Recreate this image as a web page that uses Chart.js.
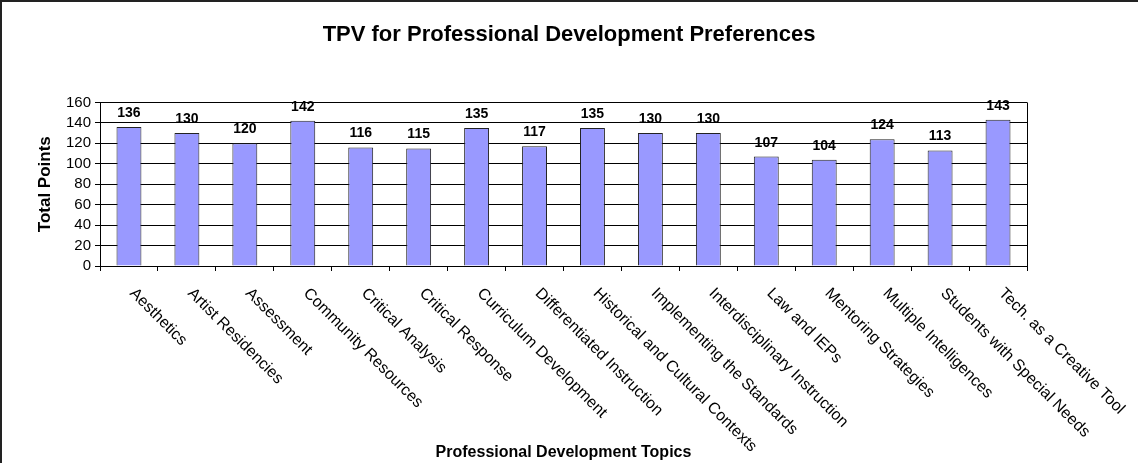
<!DOCTYPE html>
<html>
<head>
<meta charset="utf-8">
<script src="https://cdn.jsdelivr.net/npm/chart.js@4"></script>
<style>
  html, body { margin: 0; padding: 0; background: #fff; }
  canvas { display: block; }
</style>
</head>
<body>
<canvas id="tpvChart" width="1138" height="463"></canvas>
<script>
const topics = [
    'Aesthetics',
    'Artist Residencies',
    'Assessment',
    'Community Resources',
    'Critical Analysis',
    'Critical Response',
    'Curriculum Development',
    'Differentiated Instruction',
    'Historical and Cultural Contexts',
    'Implementing the Standards',
    'Interdisciplinary Instruction',
    'Law and IEPs',
    'Mentoring Strategies',
    'Multiple Intelligences',
    'Students with Special Needs',
    'Tech. as a Creative Tool'
];
const totalPoints = [136, 130, 120, 142, 116, 115, 135, 117, 135, 130, 130, 107, 104, 124, 113, 143];
const yTicks = [0, 20, 40, 60, 80, 100, 120, 140, 160];

const FONT = '"Liberation Sans", Arial, sans-serif';

// labels miring ke kanan bawah, mulai dari tengah kategori
const topicLabels = {
    id: 'topicLabels',
    afterDraw(chart) {
        const ctx = chart.ctx;
        const xScale = chart.scales.x;
        const bottom = chart.chartArea.bottom;
        ctx.save();
        ctx.font = '16px ' + FONT;
        ctx.fillStyle = '#000';
        ctx.textAlign = 'left';
        ctx.textBaseline = 'alphabetic';
        topics.forEach((t, i) => {
            ctx.save();
            ctx.translate(xScale.getPixelForValue(i), bottom + 28);
            ctx.rotate(Math.PI / 4);
            ctx.fillText(t, 0, 0);
            ctx.restore();
        });
        ctx.restore();
    }
};

// angka di atas batang
const valueLabels = {
    id: 'valueLabels',
    afterDatasetsDraw(chart) {
        const ctx = chart.ctx;
        const meta = chart.getDatasetMeta(0);
        ctx.save();
        ctx.font = 'bold 14px ' + FONT;
        ctx.fillStyle = '#000';
        ctx.textAlign = 'center';
        ctx.textBaseline = 'alphabetic';
        meta.data.forEach((bar, i) => {
            ctx.fillText(totalPoints[i], bar.x, bar.y - 10);
        });
        ctx.restore();
    }
};

// bingkai luar dan garis kanan area plot
const frame = {
    id: 'frame',
    beforeDraw(chart) {
        const ctx = chart.ctx;
        ctx.save();
        ctx.fillStyle = '#fff';
        ctx.fillRect(0, 0, chart.width, chart.height);
        ctx.restore();
    },
    afterDraw(chart) {
        const ctx = chart.ctx;
        const a = chart.chartArea;
        ctx.save();
        ctx.strokeStyle = '#000';
        ctx.lineWidth = 1;
        ctx.beginPath();
        ctx.moveTo(Math.round(a.right) + 0.5, a.top);
        ctx.lineTo(Math.round(a.right) + 0.5, a.bottom + 5);
        ctx.stroke();
        ctx.strokeStyle = '#222';
        ctx.lineWidth = 2;
        ctx.beginPath();
        ctx.moveTo(1, chart.height);
        ctx.lineTo(1, 1);
        ctx.lineTo(chart.width, 1);
        ctx.stroke();
        ctx.restore();
    }
};

const ctx = document.getElementById('tpvChart').getContext('2d');

const tpvChart = new Chart(ctx, {
    type: 'bar',
    data: {
        labels: topics,
        datasets: [
            {
                label: 'Total Points',
                data: totalPoints,
                backgroundColor: '#9999ff',
                borderColor: '#222',
                borderWidth: 1,
                barPercentage: 0.43,
                categoryPercentage: 1
            }
        ]
    },
    options: {
        responsive: false,
        animation: false,
        layout: {
            padding: 0
        },
        scales: {
            x: {
                ticks: { display: false },
                grid: {
                    offset: true,
                    drawOnChartArea: false,
                    drawTicks: true,
                    tickLength: 5,
                    color: '#000'
                },
                border: { display: true, color: '#000', width: 1 },
                title: {
                    display: true,
                    text: 'Professional Development Topics',
                    color: '#000',
                    font: { family: FONT, size: 16, weight: 'bold' },
                    padding: { top: 0, bottom: 1 }
                },
                afterFit: function(scale) {
                    scale.height = 197;
                }
            },
            y: {
                min: 0,
                max: 160,
                afterBuildTicks: function(scale) {
                    scale.ticks = yTicks.map(v => ({ value: v }));
                },
                ticks: {
                    autoSkip: false,
                    color: '#000',
                    padding: 4,
                    font: { family: FONT, size: 15 }
                },
                grid: {
                    color: '#000',
                    tickLength: 5,
                    drawTicks: true
                },
                border: { display: true, color: '#000', width: 1 },
                title: {
                    display: true,
                    text: 'Total Points',
                    color: '#000',
                    font: { family: FONT, size: 17, weight: 'bold' },
                    padding: { top: 35, bottom: 0 }
                },
                afterFit: function(scale) {
                    scale.width = 100;
                }
            },
            // sumbu kosong di kanan, hanya untuk ruang kosong
            yRight: {
                position: 'right',
                min: 0,
                max: 160,
                ticks: { display: false },
                grid: { display: false },
                border: { display: false },
                afterFit: function(scale) {
                    scale.width = 111;
                }
            }
        },
        plugins: {
            legend: { display: false },
            tooltip: { enabled: false },
            title: {
                display: true,
                text: 'TPV for Professional Development Preferences',
                color: '#000',
                font: { family: FONT, size: 22, weight: 'bold' },
                padding: { top: 22, bottom: 54 }
            }
        }
    },
    plugins: [frame, valueLabels, topicLabels]
});
</script>
</body>
</html>
